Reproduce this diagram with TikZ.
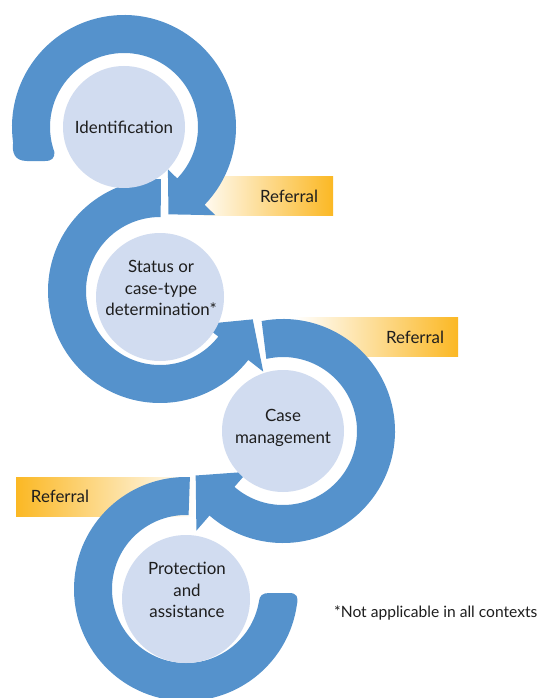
\documentclass[tikz,border=0pt]{standalone}
\usepackage{fontspec}
\setmainfont{Lato}
\usetikzlibrary{calc}
\definecolor{ringblue}{RGB}{85,146,204}
\definecolor{lightc}{RGB}{209,220,240}
\definecolor{refor}{RGB}{251,184,36}
\definecolor{txt}{RGB}{30,30,30}
\tikzset{
  ring/.style={fill=ringblue},
  lightcirc/.style={circle, fill=lightc, inner sep=0pt},
  labeltext/.style={text=txt, align=center, inner sep=0pt,
     font=\fontsize{16.9}{21.5}\selectfont},
  reftext/.style={text=txt, inner sep=0pt, font=\fontsize{16.9}{19}\selectfont},
  notetext/.style={text=txt, inner sep=0pt, font=\fontsize{15.6}{18}\selectfont},
}
\begin{document}
\begin{tikzpicture}[x=1pt,y=-1pt]
\useasboundingbox (0,0) rectangle (539,698);
\clip (0,0) rectangle (539,698);
\fill[white] (0,0) rectangle (539,698);

\coordinate (c1) at (124,127);
\coordinate (c2) at (160,291);
\coordinate (c3) at (283,431);
\coordinate (c4) at (186,589);

% referral boxes
\shade[left color=white, right color=refor] (195,176) rectangle (333,215);
\shade[left color=white, right color=refor] (295,317) rectangle (458,356);
\shade[left color=refor, right color=white] (16,477) rectangle (195,516);

% ring 4 (bottom)
\fill[ring] ($(c4)+(-88:112)$) arc[start angle=-88, end angle=-352, radius=112]
  .. controls (298.5,597) and (297,593) .. (289,593) -- (269,593)
  .. controls (262,593) and (259.5,596) .. ($(c4)+(-350:74)$)
  arc[start angle=-350, end angle=-88, radius=74] -- cycle;

% ring 3
\fill[ring] ($(c3)+(-101:112)$) arc[start angle=-101, end angle=131, radius=112]
  -- ($(c3)+(131:132)$) -- ($(c3)+(153:98)$) -- ($(c3)+(131:54)$)
  -- ($(c3)+(131:74)$) arc[start angle=131, end angle=-103, radius=74] -- cycle;

% ring 2
\fill[ring] ($(c2)+(270.5:112)$) arc[start angle=270.5, end angle=38, radius=112]
  -- ($(c2)+(38:131)$) -- ($(c2)+(17:97)$) -- ($(c2)+(38:54)$)
  -- ($(c2)+(38:74)$) arc[start angle=38, end angle=270.5, radius=74] -- cycle;

% ring 1 (top)
\fill[ring] ($(c1)+(172:112)$) arc[start angle=172, end angle=404, radius=112]
  -- ($(c1)+(44:127)$) -- ($(c1)+(63:98)$) -- ($(c1)+(44:61)$)
  -- ($(c1)+(44:74)$) arc[start angle=404, end angle=160, radius=74]
  .. controls (54.5,158) and (52,161) .. (45,161) -- (27,161)
  .. controls (14,161) and (12,152) .. ($(c1)+(172:112)$) -- cycle;

% light circles
\node[lightcirc, minimum size=122pt] (ident) at (c1) {};
\node[lightcirc, minimum size=128pt] (status) at (160,297) {};
\node[lightcirc, minimum size=122pt] (casem) at (c3) {};
\node[lightcirc, minimum size=128pt] (prot) at (186,599) {};

% circle labels
\node[labeltext] (identtext) at (124,127) {Identification};
\node[labeltext] (statustext) at (161,288) {Status or\\case-type\\determination*};
\node[labeltext] (casetext) at (283,428) {Case\\management};
\node[labeltext] (prottext) at (187,590) {Protection\\and\\assistance};

% referral labels
\node[reftext] (ref1) at (289,196) {Referral};
\node[reftext] (ref2) at (415,337) {Referral};
\node[reftext] (ref3) at (60,496) {Referral};

% footnote
\node[notetext, anchor=west] (note) at (334,613) {*Not applicable in all contexts};
\end{tikzpicture}
\end{document}
